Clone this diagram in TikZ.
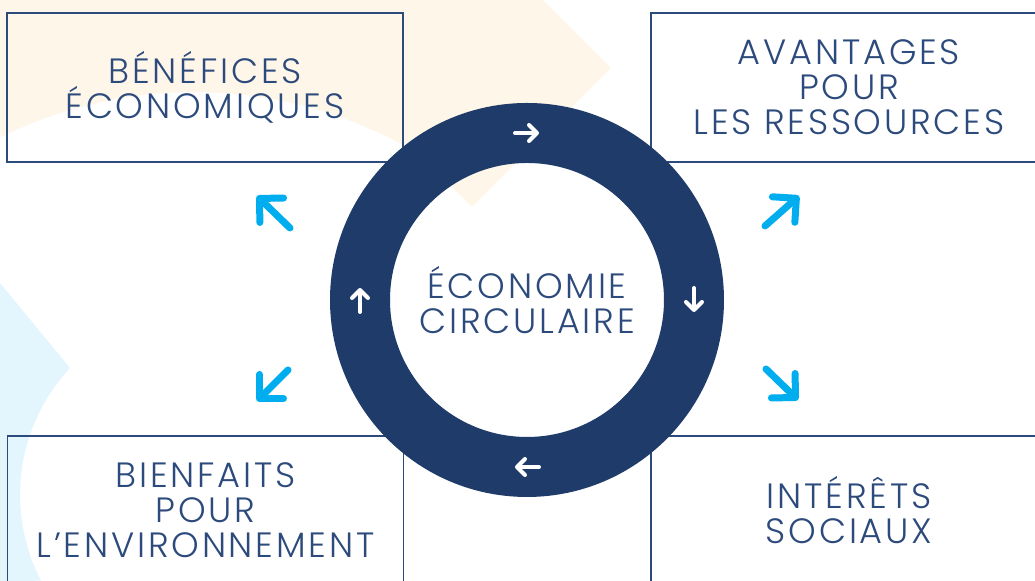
\documentclass[tikz,border=0pt]{standalone}
\usepackage{fontspec}
\IfFontExistsTF{Poppins Light}{\setmainfont{Poppins Light}[LetterSpace=8]}{\setmainfont{Liberation Sans}}
\usetikzlibrary{arrows.meta}

\definecolor{navy}{RGB}{30,59,106}
\definecolor{boxline}{RGB}{44,74,124}
\definecolor{textblue}{RGB}{44,74,124}
\definecolor{sky}{RGB}{0,174,239}
\definecolor{peach}{RGB}{254,246,232}
\definecolor{iceblue}{RGB}{228,246,253}

\tikzset{
  benefit/.style={draw=boxline, line width=0.5pt, minimum width=3.96cm,
    minimum height=1.49cm, inner sep=0pt, align=center, text=textblue,
    font=\fontsize{10}{9.96}\selectfont},
  flow/.style={white, line width=0.04cm, line cap=round,
    -{Straight Barb[length=0.8mm, width=1.6mm, round]}},
  impact/.style={sky, line width=0.07cm, line cap=round,
    -{Straight Barb[length=1.7mm, width=3.4mm, round]}},
}

\begin{document}
\begin{tikzpicture}
  \useasboundingbox (0,0) rectangle (10.35,5.81);
  \clip (0,0) rectangle (10.35,5.81);
  \fill[white] (0,0) rectangle (10.35,5.81);
  % background shapes
  \fill[peach] (0,5.81) -- (5.43,5.81) -- (6.11,5.13) -- (4.72,3.74) -- (4.19,4.27)
    arc[start angle=59.2, end angle=116.2, radius=4.39] -- cycle;
  \fill[iceblue] (0,2.98) -- (0.70,2.13)
    arc[start angle=137, end angle=207.5, radius=1.86] -- (0,0) -- cycle;
  % the four boxes
  \node[benefit] (eco) at (2.05,4.935) {BÉNÉFICES\\ÉCONOMIQUES};
  \node[benefit] (res) at (8.49,4.935) {AVANTAGES\\POUR\\LES RESSOURCES};
  \node[benefit] (env) at (2.055,0.705) {BIENFAITS\\POUR\\L’ENVIRONNEMENT};
  \node[benefit] (soc) at (8.49,0.705) {INTÉRÊTS\\SOCIAUX};
  % ring
  \coordinate (c) at (5.27,2.81);
  \fill[navy, even odd rule] (c) circle (1.97) (c) circle (1.37);
  \node[text=textblue, align=center, font=\fontsize{10}{9.96}\selectfont]
    (circ) at (c) {ÉCONOMIE\\CIRCULAIRE};
  % arrows on the ring
  \coordinate (topA) at (5.15,4.48);  \coordinate (topB) at (5.39,4.48);
  \coordinate (rgtA) at (6.94,2.93);  \coordinate (rgtB) at (6.94,2.69);
  \coordinate (botA) at (5.39,1.14);  \coordinate (botB) at (5.15,1.14);
  \coordinate (lftA) at (3.60,2.69);  \coordinate (lftB) at (3.60,2.93);
  \draw[flow] (topA) -- (topB);
  \draw[flow] (rgtA) -- (rgtB);
  \draw[flow] (botA) -- (botB);
  \draw[flow] (lftA) -- (lftB);
  % arrows towards the boxes
  \coordinate (nwA) at (2.90,3.53);  \coordinate (nwB) at (2.57,3.85);
  \coordinate (neA) at (7.65,3.55);  \coordinate (neB) at (7.99,3.85);
  \coordinate (swA) at (2.88,2.11);  \coordinate (swB) at (2.57,1.80);
  \coordinate (seA) at (7.66,2.12);  \coordinate (seB) at (7.98,1.81);
  \draw[impact] (nwA) -- (nwB);
  \draw[impact] (neA) -- (neB);
  \draw[impact] (swA) -- (swB);
  \draw[impact] (seA) -- (seB);
\end{tikzpicture}
\end{document}
